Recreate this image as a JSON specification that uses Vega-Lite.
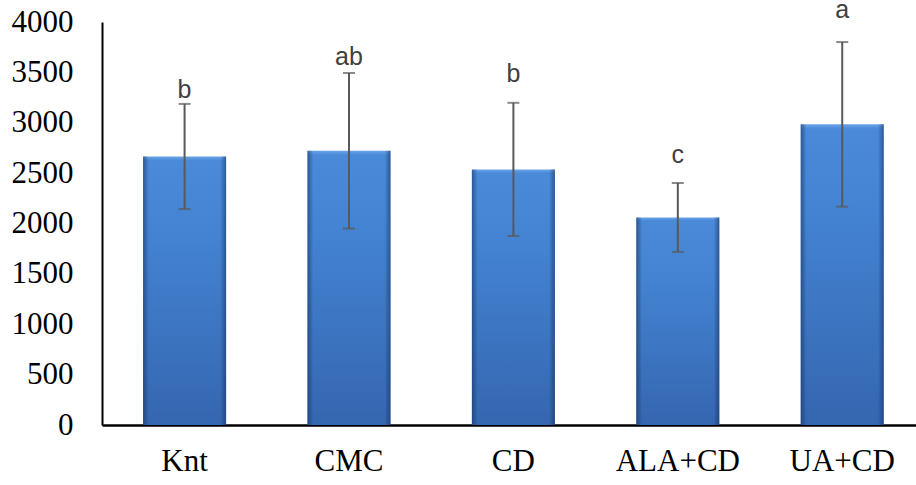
{
  "$schema": "https://vega.github.io/schema/vega-lite/v6.json",
  "width": 814,
  "height": 403,
  "autosize": {"type": "none"},
  "padding": {"left": 102, "top": 22, "right": 0, "bottom": 60},
  "background": "white",
  "data": {
    "values": [
      {"group": "Knt", "mean": 2665, "sd": 522, "letter": "b", "labelY": 3246},
      {"group": "CMC", "mean": 2722, "sd": 772, "letter": "ab", "labelY": 3573},
      {"group": "CD", "mean": 2537, "sd": 661, "letter": "b", "labelY": 3404},
      {"group": "ALA+CD", "mean": 2060, "sd": 342, "letter": "c", "labelY": 2600},
      {"group": "UA+CD", "mean": 2984, "sd": 817, "letter": "a", "labelY": 4040}
    ]
  },
  "transform": [
    {"calculate": "datum.mean - datum.sd", "as": "lo"},
    {"calculate": "datum.mean + datum.sd", "as": "hi"}
  ],
  "encoding": {
    "x": {
      "field": "group",
      "type": "nominal",
      "sort": null,
      "scale": {"paddingInner": 0.495, "paddingOuter": 0.223, "align": 0.56},
      "axis": {
        "title": null,
        "labelAngle": 0,
        "labelFont": "Liberation Serif",
        "labelFontSize": 31,
        "labelColor": "black",
        "labelPadding": 21,
        "ticks": false,
        "tickSize": 0,
        "domainColor": "black",
        "domainWidth": 2.5,
        "grid": false
      }
    }
  },
  "layer": [
    {
      "mark": {
        "type": "bar",
        "color": {
          "gradient": "linear",
          "x1": 0, "y1": 0, "x2": 0, "y2": 1,
          "stops": [
            {"offset": 0, "color": "#6aa3e8"},
            {"offset": 0.015, "color": "#4b8ad8"},
            {"offset": 0.3, "color": "#4383d2"},
            {"offset": 1, "color": "#3566b0"}
          ]
        }
      },
      "encoding": {
        "y": {
          "field": "mean",
          "type": "quantitative",
          "scale": {"domain": [0, 4000], "nice": false},
          "axis": {
            "title": null,
            "values": [0, 500, 1000, 1500, 2000, 2500, 3000, 3500, 4000],
            "format": "d",
            "labelFont": "Liberation Serif",
            "labelFontSize": 31,
            "labelColor": "black",
            "labelPadding": 29,
            "ticks": false,
            "tickSize": 0,
            "grid": false,
            "domainColor": "black",
            "domainWidth": 2
          }
        }
      }
    },
    {
      "mark": {
        "type": "bar",
        "color": {
          "gradient": "linear",
          "x1": 0, "y1": 0, "x2": 1, "y2": 0,
          "stops": [
            {"offset": 0, "color": "rgba(20,45,90,0.55)"},
            {"offset": 0.07, "color": "rgba(20,45,90,0)"},
            {"offset": 0.93, "color": "rgba(20,45,90,0)"},
            {"offset": 1, "color": "rgba(20,45,90,0.55)"}
          ]
        }
      },
      "encoding": {
        "y": {"field": "mean", "type": "quantitative"}
      }
    },
    {
      "mark": {"type": "rule", "color": "#595959", "strokeWidth": 2},
      "encoding": {
        "y": {"field": "lo", "type": "quantitative"},
        "y2": {"field": "hi"}
      }
    },
    {
      "mark": {"type": "tick", "color": "#595959", "size": 12, "thickness": 2},
      "encoding": {
        "y": {"field": "lo", "type": "quantitative"}
      }
    },
    {
      "mark": {"type": "tick", "color": "#595959", "size": 12, "thickness": 2},
      "encoding": {
        "y": {"field": "hi", "type": "quantitative"}
      }
    },
    {
      "mark": {
        "type": "text",
        "font": "Liberation Sans",
        "fontSize": 25,
        "color": "#404040",
        "baseline": "alphabetic",
        "align": "center"
      },
      "encoding": {
        "y": {"field": "labelY", "type": "quantitative"},
        "text": {"field": "letter"}
      }
    }
  ],
  "config": {"view": {"stroke": null}}
}
